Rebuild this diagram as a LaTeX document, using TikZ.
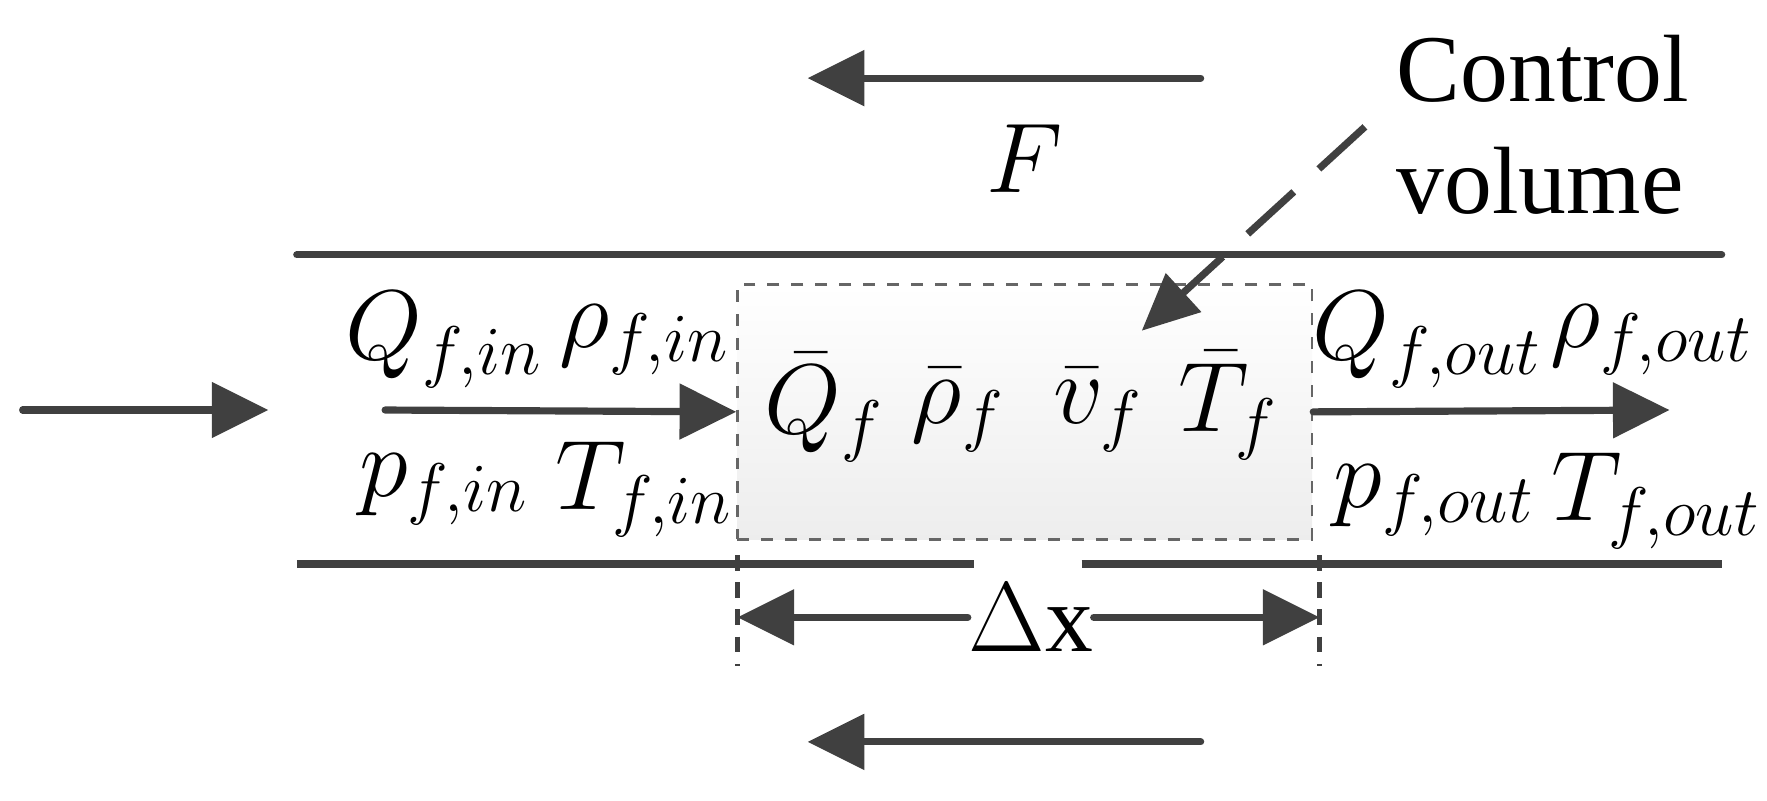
\documentclass[tikz,border=0pt]{standalone}
\usepackage{fontspec}
\setmainfont{Liberation Serif}
\usetikzlibrary{arrows.meta}
\definecolor{dk}{HTML}{404040}
\begin{document}
\begin{tikzpicture}[x=0.01cm,y=-0.01cm,
 ln/.style={line width=1.8pt,draw=dk,line cap=round},
 ar/.style={ln,-{Triangle[length=0.5cm,width=0.48cm]}},
 lbl/.style={font=\fontsize{25}{29}\selectfont,inner sep=0pt},
 txt/.style={font=\fontsize{24}{28}\selectfont,align=left,inner sep=0pt}]
\useasboundingbox (0,0) rectangle (1560,707);
\node[draw=dk!80,dashed,line width=0.6pt,top color=white,bottom color=black!7,minimum width=5.07cm,minimum height=2.25cm,anchor=north west,inner sep=0pt] (box) at (650,250) {};
\coordinate (tl) at (262,225); \coordinate (tr) at (1520,225);
\draw[ln] (tl) -- (tr);
\coordinate (bl) at (262,498); \coordinate (bm1) at (860,498);
\coordinate (bm2) at (955,498); \coordinate (br) at (1520,498);
\draw[ln,line cap=butt] (bl) -- (bm1); \draw[ln,line cap=butt] (bm2) -- (br);
\coordinate (a1) at (20,362); \coordinate (a2) at (237,362);
\draw[ar] (a1) -- (a2);
\coordinate (b1) at (340,362);
\draw[ar] (b1) -- (box.west);
\coordinate (c2) at (1474,362);
\draw[ar] (box.east) -- (c2);
\coordinate (f1) at (1060,69); \coordinate (f2) at (713,69);
\draw[ar] (f1) -- (f2);
\coordinate (g1) at (1060,655); \coordinate (g2) at (713,655);
\draw[ar] (g1) -- (g2);
\node[lbl] (F) at (905,140) {$F$};
\node[txt] (cv) at (1362,110) {Control\\volume};
\coordinate (d1) at (1205,112); \coordinate (d2) at (1008,292);
\draw[line width=1.8pt,draw=dk,dash pattern=on 0.55cm off 0.3cm,-{Triangle[length=0.5cm,width=0.45cm]}] (d1) -- (d2);
\coordinate (v1a) at (651,490); \coordinate (v1b) at (651,588);
\coordinate (v2a) at (1165,490); \coordinate (v2b) at (1165,588);
\draw[line width=1.3pt,draw=dk,dash pattern=on 0.14cm off 0.1cm] (v1a) -- (v1b) (v2a) -- (v2b);
\node[txt] (dx) at (910,545) {$\Delta$x};
\draw[ar] (dx.west) -- (v1a|-dx);
\draw[ar] (dx.east) -- (v2a|-dx);
\node[lbl] (q1) at (392,300) {$Q_{f,in}$};
\node[lbl] (r1) at (569,300) {$\rho_{f,in}$};
\node[lbl] (p1) at (392,432) {$p_{f,in}$};
\node[lbl] (t1) at (569,432) {$T_{f,in}$};
\node[lbl] (qb) at (728,360) {$\bar{Q}_f$};
\node[lbl] (rb) at (846,362) {$\bar{\rho}_f$};
\node[lbl] (vb) at (970,362) {$\bar{v}_f$};
\node[lbl] (tb) at (1084,358) {$\bar{T}_f$};
\node[lbl] (q2) at (1260,300) {$Q_{f,out}$};
\node[lbl] (r2) at (1458,300) {$\rho_{f,out}$};
\node[lbl] (p2) at (1266,442) {$p_{f,out}$};
\node[lbl] (t2) at (1462,442) {$T_{f,out}$};
\end{tikzpicture}
\end{document}
